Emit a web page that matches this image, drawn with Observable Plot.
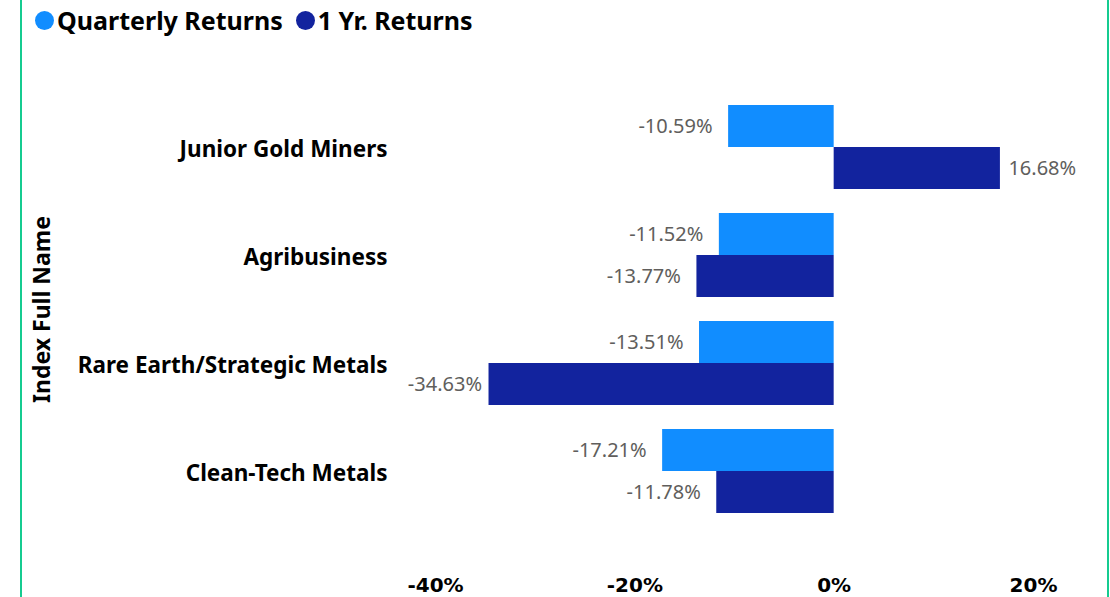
<!DOCTYPE html>
<html>
<head>
<meta charset="utf-8">
<script src="https://cdn.jsdelivr.net/npm/d3@7"></script>
<script src="https://cdn.jsdelivr.net/npm/@observablehq/plot@0.6"></script>
<style>
  html, body { margin: 0; padding: 0; background: #fff; }
  body { width: 1110px; height: 597px; overflow: hidden; position: relative; font-family: "Noto Sans", sans-serif; }
  .border { position: absolute; top: 0; width: 2px; height: 597px; background: #15CB90; }
  #legend { position: absolute; left: 35px; top: 0; height: 40px; display: flex; align-items: center; font: bold 25px "Noto Sans", sans-serif; color: #000; white-space: nowrap; }
  #legend .item { display: flex; align-items: center; margin-right: 13px; }
  #legend .dot { width: 19px; height: 19px; border-radius: 50%; margin-right: 3px; }
  #chart { position: absolute; left: 0; top: 40px; }
  .pb [aria-label="y-axis tick label"] text { font: bold 22.5px "Noto Sans", sans-serif; fill: #000; }
  .pb [aria-label="x-axis tick label"] text { font: bold 20px "DejaVu Sans", sans-serif; fill: #000; }
  .pb .ytitle text { font: bold 23px "Noto Sans", sans-serif; fill: #000; }
  .pb .vlabel text { font: 20px "Noto Sans", sans-serif; fill: #605E5C; }
</style>
</head>
<body>
<div class="border" style="left:20px"></div>
<div class="border" style="left:1107px"></div>
<div id="legend"></div>
<div id="chart"></div>
<script>
const categories = ["Junior Gold Miners", "Agribusiness", "Rare Earth/Strategic Metals", "Clean-Tech Metals"];
const seriesNames = ["Quarterly Returns", "1 Yr. Returns"];
const seriesColors = ["#118DFF", "#12239E"];
const quarterlyReturns = [-10.59, -11.52, -13.51, -17.21];
const oneYearReturns = [16.68, -13.77, -34.63, -11.78];
const xTicks = [-40, -20, 0, 20];
const yTitle = "Index Full Name";

const rows = categories.flatMap((c, i) => [
  {name: c, series: seriesNames[0], value: quarterlyReturns[i]},
  {name: c, series: seriesNames[1], value: oneYearReturns[i]}
]);

// legend
const legend = document.getElementById("legend");
seriesNames.forEach((s, i) => {
  const item = document.createElement("div");
  item.className = "item";
  const dot = document.createElement("span");
  dot.className = "dot";
  dot.style.background = seriesColors[i];
  const label = document.createElement("span");
  label.textContent = s;
  item.appendChild(dot);
  item.appendChild(label);
  legend.appendChild(item);
});

const half = 42;
const fmt = v => v.toFixed(2) + "%";
const isQ = d => d.series === seriesNames[0];
const far = d => d.value <= -30; // labels near the left edge sit closer to the bar

function labels(filter, dy) {
  return [
    Plot.text(rows, {filter: d => filter(d) && d.value < 0 && !far(d), x: "value", y: "name", text: d => fmt(d.value), textAnchor: "end", dx: -16, dy, className: "vlabel"}),
    Plot.text(rows, {filter: d => filter(d) && far(d), x: "value", y: "name", text: d => fmt(d.value), textAnchor: "end", dx: -7, dy, className: "vlabel"}),
    Plot.text(rows, {filter: d => filter(d) && d.value >= 0, x: "value", y: "name", text: d => fmt(d.value), textAnchor: "start", dx: 8, dy, className: "vlabel"})
  ];
}

const chart = Plot.plot({
  width: 1110,
  height: 557,
  marginLeft: 435,
  marginRight: 77,
  marginTop: 41,
  marginBottom: 60,
  className: "pb",
  style: {background: "transparent", overflow: "visible"},
  x: {domain: [-40, 20]},
  y: {domain: categories, padding: 24 / 108},
  color: {domain: seriesNames, range: seriesColors},
  marks: [
    Plot.barX(rows, {filter: isQ, x: "value", y: "name", fill: "series", insetBottom: half}),
    Plot.barX(rows, {filter: d => !isQ(d), x: "value", y: "name", fill: "series", insetTop: half}),
    ...labels(isQ, -half / 2),
    ...labels(d => !isQ(d), half / 2),
    Plot.axisY({tickSize: 0, tickPadding: 48, dy: 2, label: null}),
    Plot.axisX({ticks: xTicks, tickFormat: d => d + "%", tickSize: 0, tickPadding: 40, label: null}),
    Plot.text([yTitle], {frameAnchor: "left", rotate: -90, textAnchor: "middle", dx: -393, text: d => d, className: "ytitle"})
  ]
});
document.getElementById("chart").appendChild(chart);
</script>
</body>
</html>
